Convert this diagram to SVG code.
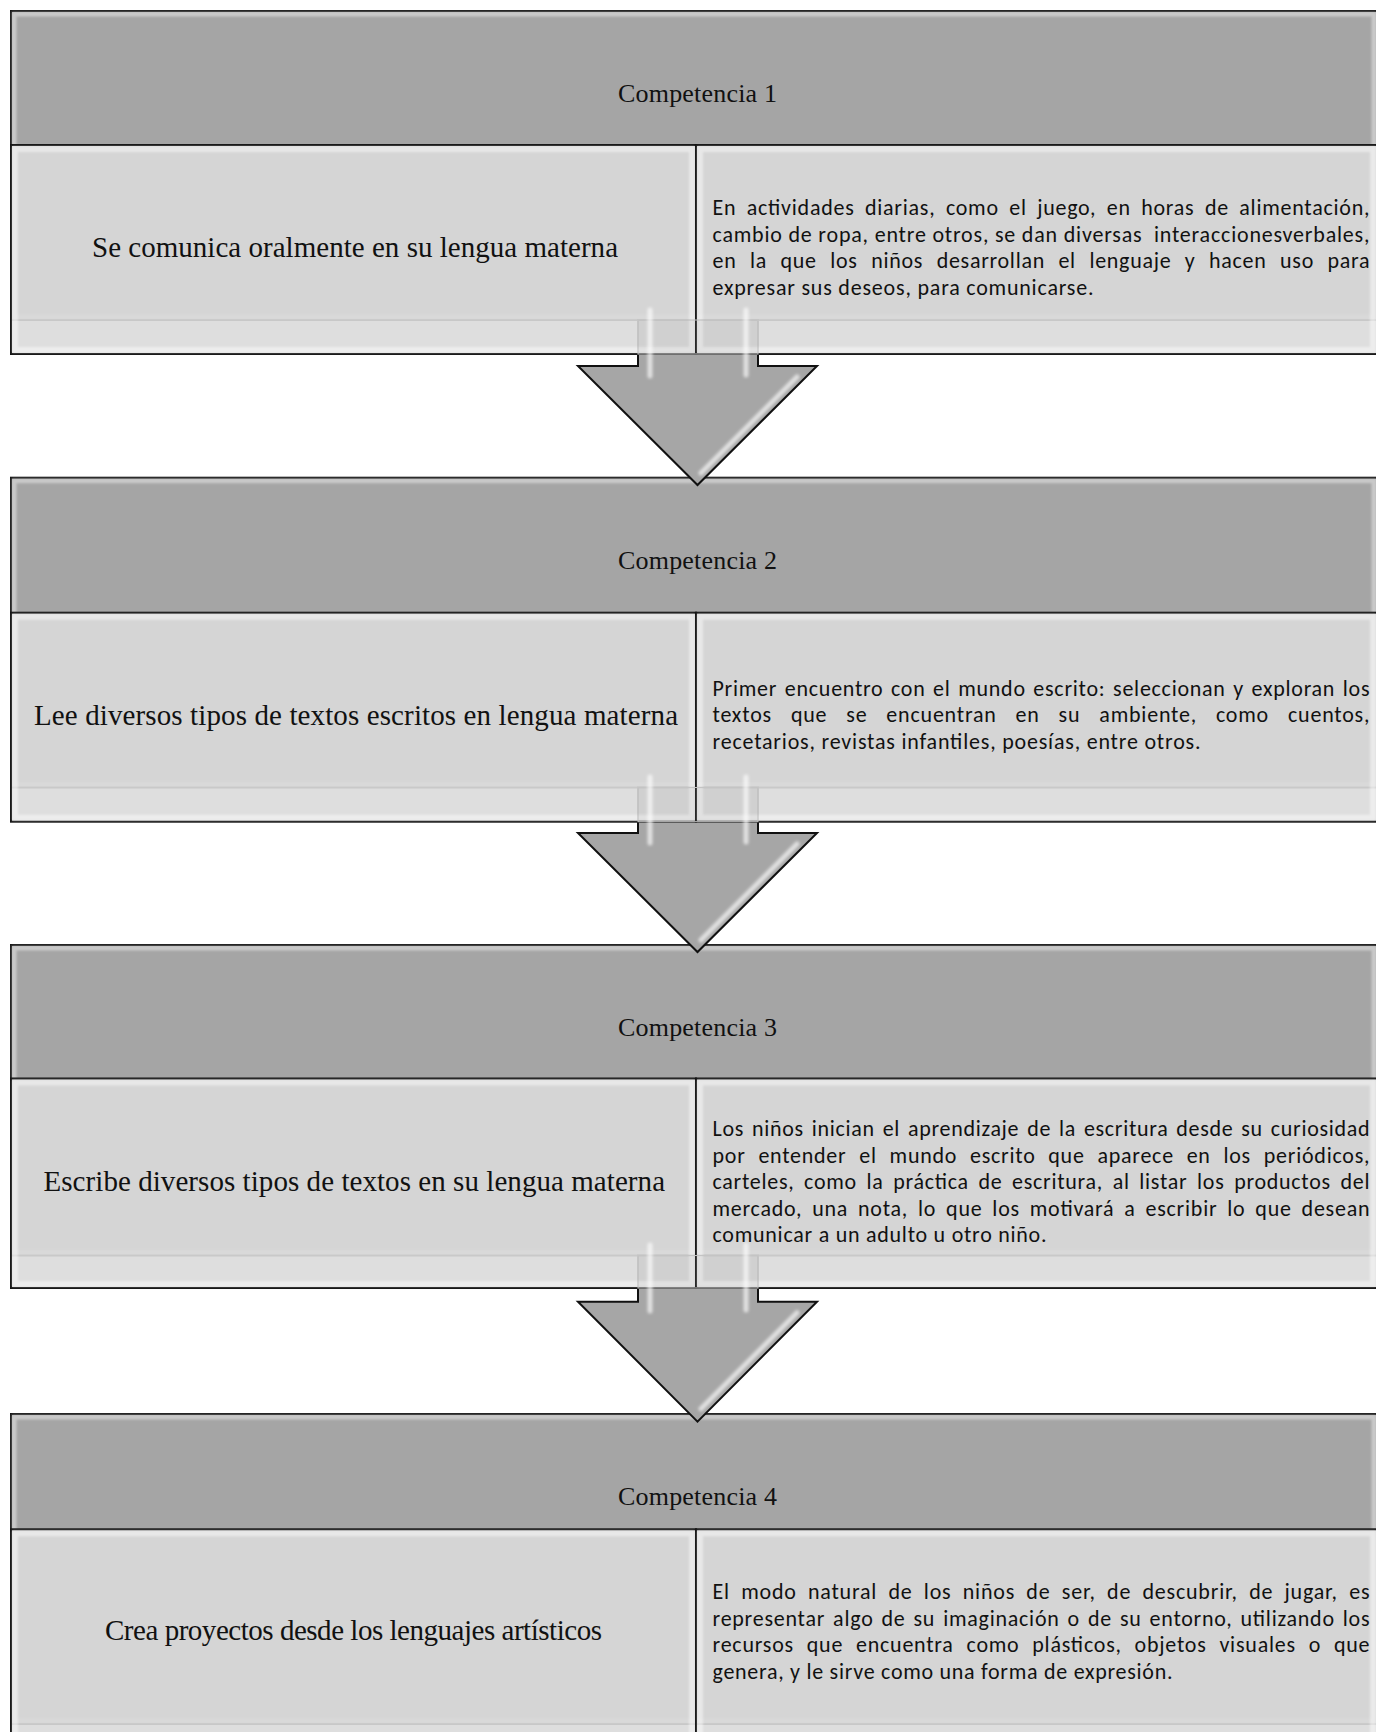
<svg xmlns="http://www.w3.org/2000/svg" width="1376" height="1732" viewBox="0 0 1376 1732">
<defs>
<style>
.hdr{fill:#a5a5a5;stroke:#111;stroke-width:2}
.cell{fill:#dadada;fill-opacity:0.9;stroke:#111;stroke-width:2}
.bev{fill:none;stroke:#fff;stroke-width:6;stroke-opacity:0.45;filter:url(#soft)}
.bevd{fill:none;stroke:#fff;stroke-width:5;stroke-opacity:0.4;filter:url(#soft)}
.arrow{fill:#a6a6a6;stroke:#111;stroke-width:2;stroke-linejoin:miter}
.ghost{fill:#a6a6a6;fill-opacity:0.1;stroke:#c4c4c4;stroke-width:1}
.hl{stroke:#fff;stroke-width:5;stroke-opacity:0.65;stroke-linecap:round;filter:url(#soft2);fill:none}
.ht{font-family:"Liberation Serif","Times New Roman",serif;font-size:26px;fill:#111}
.lt{font-family:"Liberation Serif","Times New Roman",serif;font-size:29px;fill:#111}
.rt{font-family:Carlito,Lato,sans-serif;font-size:22px;fill:#111}
</style>
<filter id="soft" filterUnits="userSpaceOnUse" x="0" y="0" width="1376" height="1732"><feGaussianBlur stdDeviation="1.2"/></filter>
<filter id="soft2" filterUnits="userSpaceOnUse" x="0" y="0" width="1376" height="1732"><feGaussianBlur stdDeviation="1.8"/></filter>
</defs>
<rect width="1376" height="1732" fill="#fff"/>

<g id="headers">
<g id="c1-header">
<rect class="hdr" x="11" y="11" width="1366" height="309"/>
<rect class="bevd" x="14" y="14" width="1360" height="303"/>
<text class="ht" x="618" y="102" textLength="159">Competencia 1</text>
</g>
<g id="c2-header">
<rect class="hdr" x="11" y="477.7" width="1366" height="309.8"/>
<rect class="bevd" x="14" y="480.7" width="1360" height="303.8"/>
<text class="ht" x="618" y="569" textLength="159">Competencia 2</text>
</g>
<g id="c3-header">
<rect class="hdr" x="11" y="945" width="1366" height="310.5"/>
<rect class="bevd" x="14" y="948" width="1360" height="304.5"/>
<text class="ht" x="618" y="1036" textLength="159">Competencia 3</text>
</g>
<g id="c4-header">
<rect class="hdr" x="11" y="1414" width="1366" height="310"/>
<rect class="bevd" x="14" y="1417" width="1360" height="304"/>
<text class="ht" x="618" y="1505" textLength="159">Competencia 4</text>
</g>
</g>

<g id="connectors">
<polygon id="arrow1" class="arrow" points="638,320 638,366 578,366 697.5,485 817,366 758,366 758,320"/>
<polygon id="arrow2" class="arrow" points="638,787.5 638,833 578,833 697.5,952 817,833 758,833 758,787.5"/>
<polygon id="arrow3" class="arrow" points="638,1255.5 638,1301.7 578,1301.7 697.5,1421.7 817,1301.7 758,1301.7 758,1255.5"/>
</g>

<g id="c1-left">
<rect class="cell" x="11" y="145" width="685" height="209"/>
<rect class="bev" x="15" y="149" width="677" height="201"/>
<text class="lt" x="92" y="257" textLength="526">Se comunica oralmente en su lengua materna</text>
</g>
<g id="c1-right">
<rect class="cell" x="696" y="145" width="681" height="209"/>
<rect class="bev" x="700" y="149" width="673" height="201"/>
<text class="rt" x="712.5" y="215" textLength="657" word-spacing="4.7">En actividades diarias, como el juego, en horas de alimentación,</text>
<text class="rt" x="712.5" y="241.5" textLength="657">cambio de ropa, entre otros, se dan diversas &#160;interaccionesverbales,</text>
<text class="rt" x="712.5" y="268" textLength="657" word-spacing="7.9">en la que los niños desarrollan el lenguaje y hacen uso para</text>
<text class="rt" x="712.5" y="294.5" textLength="381">expresar sus deseos, para comunicarse.</text>
</g>

<g id="c2-left">
<rect class="cell" x="11" y="612.7" width="685" height="209"/>
<rect class="bev" x="15" y="616.7" width="677" height="201"/>
<text class="lt" x="34" y="724.5" textLength="644">Lee diversos tipos de textos escritos en lengua materna</text>
</g>
<g id="c2-right">
<rect class="cell" x="696" y="612.7" width="681" height="209"/>
<rect class="bev" x="700" y="616.7" width="673" height="201"/>
<text class="rt" x="712.5" y="695.5" textLength="657" word-spacing="1.9">Primer encuentro con el mundo escrito: seleccionan y exploran los</text>
<text class="rt" x="712.5" y="722" textLength="657" word-spacing="13.2">textos que se encuentran en su ambiente, como cuentos,</text>
<text class="rt" x="712.5" y="748.5" textLength="488">recetarios, revistas infantiles, poesías, entre otros.</text>
</g>

<g id="c3-left">
<rect class="cell" x="11" y="1078.5" width="685" height="209.5"/>
<rect class="bev" x="15" y="1082.5" width="677" height="201.5"/>
<text class="lt" x="43.5" y="1191" textLength="621.5">Escribe diversos tipos de textos en su lengua materna</text>
</g>
<g id="c3-right">
<rect class="cell" x="696" y="1078.5" width="681" height="209.5"/>
<rect class="bev" x="700" y="1082.5" width="673" height="201.5"/>
<text class="rt" x="712.5" y="1136" textLength="657" word-spacing="2.3">Los niños inician el aprendizaje de la escritura desde su curiosidad</text>
<text class="rt" x="712.5" y="1162.5" textLength="657" word-spacing="7.1">por entender el mundo escrito que aparece en los periódicos,</text>
<text class="rt" x="712.5" y="1189" textLength="657" word-spacing="4">carteles, como la práctica de escritura, al listar los productos del</text>
<text class="rt" x="712.5" y="1215.5" textLength="657" word-spacing="4.2">mercado, una nota, lo que los motivará a escribir lo que desean</text>
<text class="rt" x="712.5" y="1242" textLength="334">comunicar a un adulto u otro niño.</text>
</g>

<g id="c4-left">
<rect class="cell" x="11" y="1529.3" width="685" height="230"/>
<rect class="bev" x="15" y="1533.3" width="677" height="222"/>
<text class="lt" x="105" y="1640" textLength="497">Crea proyectos desde los lenguajes artísticos</text>
</g>
<g id="c4-right">
<rect class="cell" x="696" y="1529.3" width="681" height="230"/>
<rect class="bev" x="700" y="1533.3" width="673" height="222"/>
<text class="rt" x="712.5" y="1599" textLength="657" word-spacing="5.5">El modo natural de los niños de ser, de descubrir, de jugar, es</text>
<text class="rt" x="712.5" y="1625.5" textLength="657" word-spacing="2.3">representar algo de su imaginación o de su entorno, utilizando los</text>
<text class="rt" x="712.5" y="1652" textLength="657" word-spacing="7.1">recursos que encuentra como plásticos, objetos visuales o que</text>
<text class="rt" x="712.5" y="1678.5" textLength="460">genera, y le sirve como una forma de expresión.</text>
</g>

<g id="connector-highlights">
<rect class="ghost" x="638" y="320" width="120" height="34"/>
<line class="hl" x1="650" y1="310" x2="650" y2="376"/>
<line class="hl" x1="746" y1="310" x2="746" y2="375"/>
<line class="hl" x1="797" y1="377" x2="701" y2="473"/>
<rect class="ghost" x="638" y="787.5" width="120" height="34.2"/>
<line class="hl" x1="650" y1="777" x2="650" y2="843"/>
<line class="hl" x1="746" y1="777" x2="746" y2="842"/>
<line class="hl" x1="797" y1="844" x2="701" y2="940"/>
<rect class="ghost" x="638" y="1255.5" width="120" height="32.5"/>
<line class="hl" x1="650" y1="1245" x2="650" y2="1311"/>
<line class="hl" x1="746" y1="1245" x2="746" y2="1310"/>
<line class="hl" x1="797" y1="1312.7" x2="701" y2="1408.7"/>
</g>
</svg>
